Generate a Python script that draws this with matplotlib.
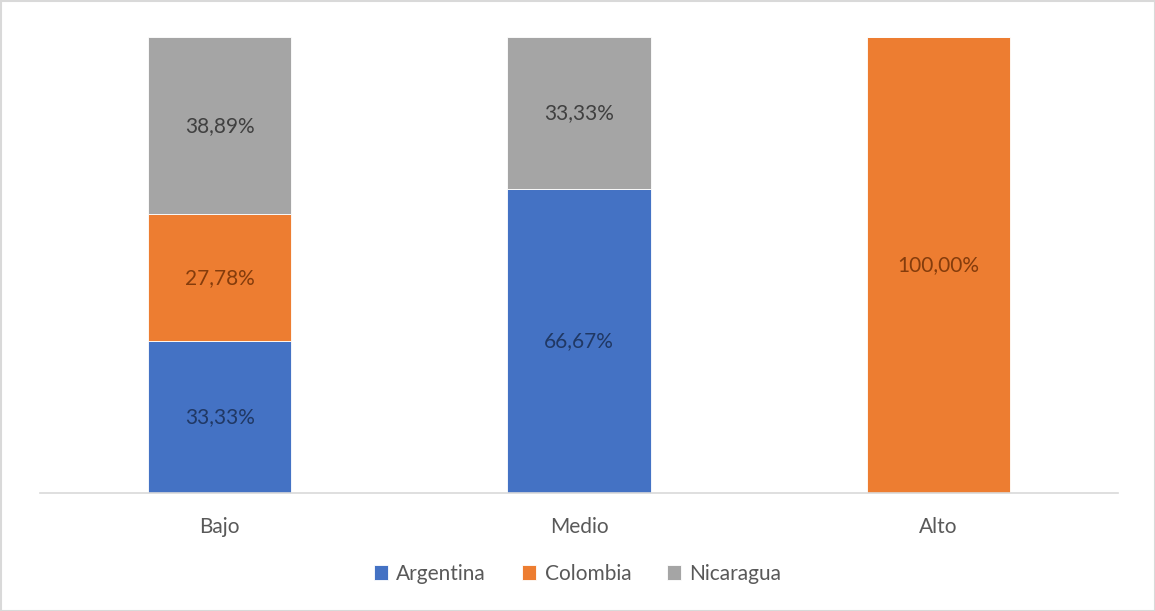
import matplotlib
matplotlib.use("Agg")
import matplotlib.pyplot as plt
import numpy as np

categories = ['Bajo', 'Medio', 'Alto']
series = ['Argentina', 'Colombia', 'Nicaragua']
argentina = [33.33, 66.67, 0.0]
colombia = [27.78, 0.0, 100.0]
nicaragua = [38.89, 33.33, 0.0]

colors = ['#4472c4', '#ed7d31', '#a5a5a5']
label_colors = ['#203864', '#843c0c', '#404040']

plt.rcParams['font.family'] = ['Lato', 'DejaVu Sans']

fig = plt.figure(figsize=(11.55, 6.11), dpi=100)
ax = fig.add_axes([40 / 1155, (611 - 493) / 611, 1078 / 1155, 456 / 611])

x = np.arange(len(categories))
bottom = np.zeros(len(categories))
handles = []
for name, vals, col, lc in zip(series, [argentina, colombia, nicaragua], colors, label_colors):
    vals = np.array(vals)
    bars = ax.bar(x, vals, width=0.398, bottom=bottom, color=col,
                  edgecolor='white', linewidth=0.6, label=name)
    handles.append(bars)
    for xi, v, b in zip(x, vals, bottom):
        if v > 0:
            ax.text(xi, b + v / 2, ('%.2f%%' % v).replace('.', ','),
                    ha='center', va='center', fontsize=15, color=lc)
    bottom += vals

ax.set_xlim(-0.5, 2.5)
ax.set_ylim(0, 100)
ax.set_xticks(x)
ax.set_xticklabels(categories, fontsize=15, color='#595959')
ax.tick_params(axis='x', length=0, pad=17)
ax.set_yticks([])
for s in ['top', 'right', 'left']:
    ax.spines[s].set_visible(False)
ax.spines['bottom'].set_color('#d9d9d9')
ax.spines['bottom'].set_linewidth(1.2)

leg = fig.legend(handles=handles, loc='center', bbox_to_anchor=(0.5, 1 - 574 / 611),
                 ncol=3, frameon=False, fontsize=15, handlelength=0.7,
                 handleheight=0.7, handletextpad=0.4, columnspacing=1.7)
for t in leg.get_texts():
    t.set_color('#595959')

border = plt.Rectangle((0.5 / 1155, 0.5 / 611), 1 - 1 / 1155, 1 - 1 / 611,
                       transform=fig.transFigure, fill=False,
                       edgecolor='#d9d9d9', linewidth=1.5)
fig.patches.append(border)

fig.savefig('out.png', dpi=100)
